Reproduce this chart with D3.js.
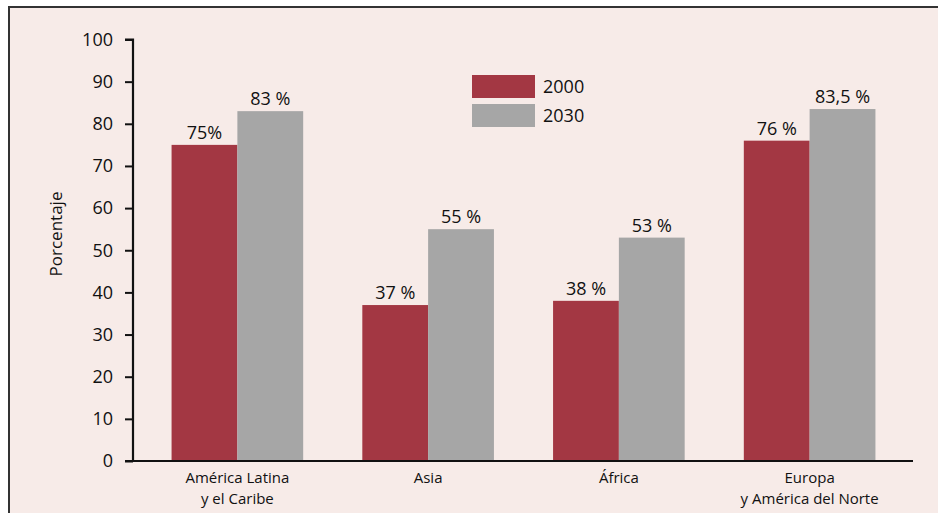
<!DOCTYPE html>
<html>
<head>
<meta charset="utf-8">
<script src="https://cdn.jsdelivr.net/npm/d3@7"></script>
<style>
  body { margin: 0; background: #fff; }
  svg { display: block; font-family: "Open Sans", sans-serif; }
</style>
</head>
<body>
<div id="chart"></div>
<script>
// datos
const regiones = [
  ["América Latina", "y el Caribe"],
  ["Asia"],
  ["África"],
  ["Europa", "y América del Norte"]
];
const anios = ["2000", "2030"];
const valores2000 = [75, 37, 38, 76];
const valores2030 = [83, 55, 53, 83.5];
const etiquetas2000 = ["75%", "37 %", "38 %", "76 %"];
const etiquetas2030 = ["83 %", "55 %", "53 %", "83,5 %"];
const yTicks = [0, 10, 20, 30, 40, 50, 60, 70, 80, 90, 100];

const colores = { "2000": "#a33743", "2030": "#a6a6a6" };

const width = 938, height = 513;
const svg = d3.select("#chart").append("svg")
  .attr("width", width).attr("height", height);

// fondo con marco
svg.append("rect")
  .attr("x", 9).attr("y", 7)
  .attr("width", width + 20).attr("height", height + 20)
  .attr("fill", "#f7ebe8")
  .attr("stroke", "#333").attr("stroke-width", 2);

const y = d3.scaleLinear().domain([0, 100]).range([461, 39.5]);

const x0 = d3.scaleBand()
  .domain(regiones.map((d, i) => i))
  .range([142, 905])
  .paddingInner(0.31)
  .paddingOuter(0.155);

const x1 = d3.scaleBand().domain(anios).range([0, x0.bandwidth()]);

const datos = regiones.map((r, i) => ({
  i: i,
  series: [
    { anio: "2000", v: valores2000[i], label: etiquetas2000[i] },
    { anio: "2030", v: valores2030[i], label: etiquetas2030[i] }
  ]
}));

const grupos = svg.selectAll("g.grupo").data(datos).enter()
  .append("g")
  .attr("class", "grupo")
  .attr("transform", (d) => `translate(${x0(d.i)},0)`);

grupos.selectAll("rect").data((d) => d.series).enter()
  .append("rect")
  .attr("x", (d) => x1(d.anio))
  .attr("y", (d) => y(d.v))
  .attr("width", x1.bandwidth())
  .attr("height", (d) => y(0) - y(d.v))
  .attr("fill", (d) => colores[d.anio]);

grupos.selectAll("text").data((d) => d.series).enter()
  .append("text")
  .attr("x", (d) => x1(d.anio) + x1.bandwidth() / 2)
  .attr("y", (d) => y(d.v) - 6)
  .attr("text-anchor", "middle")
  .attr("font-size", 18)
  .attr("fill", "#111")
  .text((d) => d.label);

// eje Y
const yAxis = svg.append("g")
  .attr("transform", "translate(133,0)")
  .call(d3.axisLeft(y).tickValues(yTicks).tickSize(8).tickPadding(12));
yAxis.select(".domain").attr("stroke", "#111").attr("stroke-width", 2.2)
  .attr("d", `M-8,${y(100)}H0V${y(0)}`);
yAxis.selectAll(".tick line").attr("stroke", "#111").attr("stroke-width", 2);
yAxis.selectAll(".tick text")
  .attr("font-size", 18).attr("fill", "#111")
  .attr("font-family", "'Open Sans', sans-serif");

// eje X
svg.append("line")
  .attr("x1", 125).attr("x2", 913)
  .attr("y1", y(0)).attr("y2", y(0))
  .attr("stroke", "#111").attr("stroke-width", 2.2);

// etiquetas de categoría, una línea por texto
datos.forEach((d) => {
  regiones[d.i].forEach((linea, j) => {
    svg.append("text")
      .attr("class", "cat")
      .attr("text-anchor", "middle")
      .attr("font-size", 15)
      .attr("fill", "#111")
      .attr("x", x0(d.i) + x0.bandwidth() / 2)
      .attr("y", 483 + j * 20.5)
      .text(linea);
  });
});

// título eje Y
svg.append("text")
  .attr("transform", "translate(62,234) rotate(-90)")
  .attr("text-anchor", "middle")
  .attr("font-size", 17)
  .attr("fill", "#111")
  .text("Porcentaje");

// leyenda
const leyenda = svg.append("g").attr("transform", "translate(472,75)");
anios.forEach((a, i) => {
  leyenda.append("rect")
    .attr("x", 0).attr("y", i * 29)
    .attr("width", 63).attr("height", 23)
    .attr("fill", colores[a]);
  leyenda.append("text")
    .attr("x", 71).attr("y", i * 29 + 18)
    .attr("font-size", 18)
    .attr("fill", "#111")
    .text(a);
});
</script>
</body>
</html>
